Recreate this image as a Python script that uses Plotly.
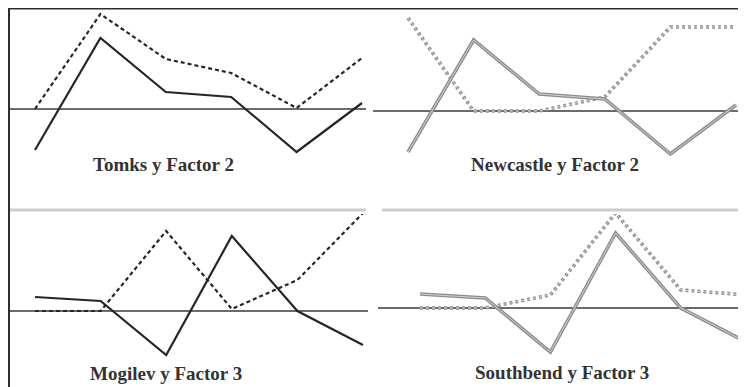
import plotly.graph_objects as go

# ---- data ----
positions = [1, 2, 3, 4, 5, 6]
factor2 = [-0.41, 0.71, 0.17, 0.12, -0.43, 0.06]
tomks = [0.00, 0.95, 0.50, 0.36, 0.01, 0.51]
newcastle = [0.93, 0.00, 0.00, 0.14, 0.84, 0.84]
factor3 = [0.14, 0.10, -0.44, 0.75, 0.00, -0.34]
mogilev = [0.00, 0.00, 0.80, 0.02, 0.31, 0.98]
southbend = [0.00, 0.00, 0.13, 0.95, 0.18, 0.13]
titles = ["Tomks y Factor 2", "Newcastle y Factor 2",
          "Mogilev y Factor 3", "Southbend y Factor 3"]

W, H = 746, 387
OFF = 8  # page body margin offset
PX_PER_UNIT = 100.0

def xr(d0, d1, p_first, p_last):
    d0 -= OFF; d1 -= OFF; p_first -= OFF; p_last -= OFF
    slope = (p_last - p_first) / (positions[-1] - positions[0])
    r0 = positions[0] - (p_first - d0) / slope
    r1 = positions[0] + (d1 - p_first) / slope
    return [r0, r1], [max(d0, 0) / W, min(d1, W) / W]

def yr(top, bottom, zero):
    top -= OFF; bottom -= OFF; zero -= OFF
    return [(zero - bottom) / PX_PER_UNIT, (zero - top) / PX_PER_UNIT], [1 - bottom / H, 1 - top / H]

def px(x):
    return (x - OFF) / W

def py(y):
    return 1 - (y - OFF) / H

# panel pixel geometry (screen px): x domain, first/last point px, y domain top/bottom, zero px
panels = [
    dict(xd=(10, 366), xp=(35, 362), yd=(10, 200), z=109, lab=(163, 164)),
    dict(xd=(373, 740), xp=(408, 736), yd=(10, 200), z=111, lab=(555, 164)),
    dict(xd=(10, 368), xp=(35, 363), yd=(214, 395), z=311, lab=(166, 373)),
    dict(xd=(378, 754), xp=(420, 746), yd=(214, 395), z=308, lab=(562, 372)),
]

fig = go.Figure()
BLACK = "#262626"
GRAY = "#8c8c8c"
LIGHT = "#d2d2d2"

def black_pair(idx, solid, dashed):
    ax = "" if idx == 1 else str(idx)
    fig.add_trace(go.Scatter(x=positions, y=dashed, mode="lines", xaxis="x" + ax, yaxis="y" + ax,
                             line=dict(color=BLACK, width=2.2, dash="4px,3px"), cliponaxis=False))
    fig.add_trace(go.Scatter(x=positions, y=solid, mode="lines", xaxis="x" + ax, yaxis="y" + ax,
                             line=dict(color=BLACK, width=2.2), cliponaxis=False))

def gray_pair(idx, solid, dashed):
    ax = "" if idx == 1 else str(idx)
    fig.add_trace(go.Scatter(x=positions, y=dashed, mode="lines", xaxis="x" + ax, yaxis="y" + ax,
                             line=dict(color=GRAY, width=3.5, dash="3px,3px")))
    fig.add_trace(go.Scatter(x=positions, y=dashed, mode="lines", xaxis="x" + ax, yaxis="y" + ax,
                             line=dict(color=LIGHT, width=1, dash="3px,3px")))
    fig.add_trace(go.Scatter(x=positions, y=solid, mode="lines", xaxis="x" + ax, yaxis="y" + ax,
                             line=dict(color=GRAY, width=3.5)))
    fig.add_trace(go.Scatter(x=positions, y=solid, mode="lines", xaxis="x" + ax, yaxis="y" + ax,
                             line=dict(color=LIGHT, width=1)))

black_pair(1, factor2, tomks)
gray_pair(2, factor2, newcastle)
black_pair(3, factor3, mogilev)
gray_pair(4, factor3, southbend)

layout = dict(width=W, height=H, margin=dict(l=0, r=0, t=0, b=0),
              paper_bgcolor="white", plot_bgcolor="rgba(0,0,0,0)", showlegend=False)
shapes = []
annotations = []
for i, p in enumerate(panels, start=1):
    xrange, xdom = xr(p["xd"][0], p["xd"][1], p["xp"][0], p["xp"][1])
    yrange, ydom = yr(p["yd"][0], min(p["yd"][1], H + OFF), p["z"])
    ydom = [max(ydom[0], 0), min(ydom[1], 1)]
    sfx = "" if i == 1 else str(i)
    common = dict(showgrid=False, zeroline=False, showticklabels=False, ticks="", showline=False, fixedrange=True)
    layout["xaxis" + sfx] = dict(range=xrange, domain=xdom, anchor="y" + sfx, **common)
    layout["yaxis" + sfx] = dict(range=yrange, domain=ydom, anchor="x" + sfx, **common)
    shapes.append(dict(type="line", xref="x%s domain" % sfx, yref="y" + sfx, x0=0, x1=1, y0=0, y1=0,
                       line=dict(color="#3a3a3a", width=1.5), layer="below"))
    annotations.append(dict(text="<b>%s</b>" % titles[i - 1], xref="paper", yref="paper",
                            x=px(p["lab"][0]), y=py(p["lab"][1]), xanchor="center", yanchor="middle",
                            showarrow=False,
                            font=dict(family="Liberation Serif, Times New Roman, serif", size=19, color="#333333")))

# frame lines (top and left) and light rules above lower panels
shapes.append(dict(type="line", xref="paper", yref="paper", x0=px(8.5), x1=1, y0=py(8), y1=py(8),
                   line=dict(color="#2e2e2e", width=3)))
shapes.append(dict(type="line", xref="paper", yref="paper", x0=px(8.5), x1=px(8.5), y0=0, y1=py(7),
                   line=dict(color="#2e2e2e", width=3)))
shapes.append(dict(type="line", xref="paper", yref="paper", x0=px(10), x1=px(366), y0=py(210), y1=py(210),
                   line=dict(color="#cdcdcd", width=3)))
shapes.append(dict(type="line", xref="paper", yref="paper", x0=px(382), x1=1, y0=py(210), y1=py(210),
                   line=dict(color="#cdcdcd", width=3)))
layout["shapes"] = shapes
layout["annotations"] = annotations
fig.update_layout(**layout)
fig.write_html("out.html")
